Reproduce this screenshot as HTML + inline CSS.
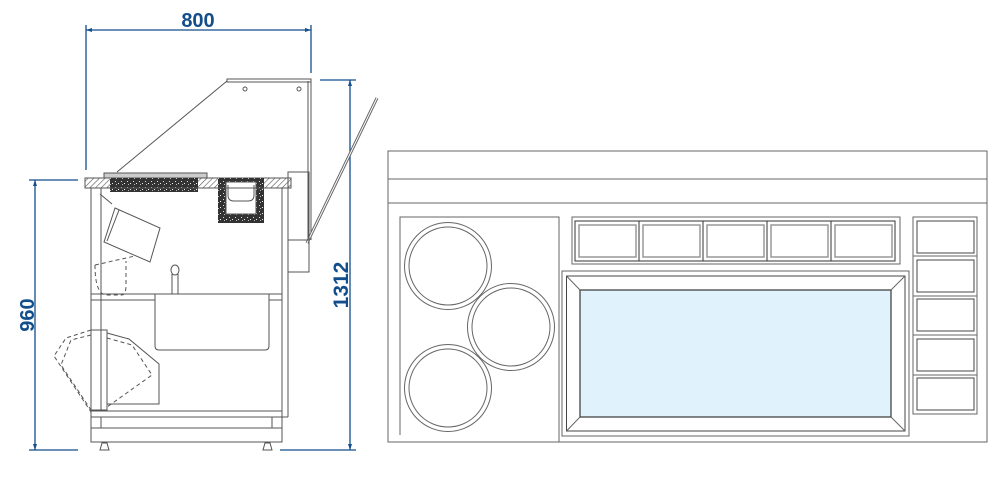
<!DOCTYPE html>
<html><head><meta charset="utf-8"><style>
html,body{margin:0;padding:0;background:#fff;}
svg{display:block;}
text{font-family:"Liberation Sans",sans-serif;font-weight:bold;fill:#124d8c;}
</style></head><body>
<svg width="1000" height="493" viewBox="0 0 1000 493" xmlns="http://www.w3.org/2000/svg">
<defs>
<pattern id="hatch" width="4" height="4" patternUnits="userSpaceOnUse" patternTransform="rotate(45)">
<rect width="4" height="4" fill="#fff"/><line x1="0" y1="0" x2="0" y2="4" stroke="#555" stroke-width="1.2"/></pattern>
<pattern id="gran" width="6" height="6" patternUnits="userSpaceOnUse">
<rect width="6" height="6" fill="#333"/><rect x="1" y="1" width="1" height="1" fill="#ddd"/><rect x="4" y="3" width="1" height="1" fill="#eee"/><rect x="2" y="4" width="1" height="1" fill="#bbb"/></pattern>
</defs>
<g stroke="#124d8c" stroke-width="1.3" fill="none">
<line x1="86" y1="30" x2="311" y2="30"/><line x1="86" y1="25" x2="86" y2="170"/><line x1="311" y1="25" x2="311" y2="73"/>
<line x1="35" y1="180" x2="35" y2="450"/><line x1="29" y1="180" x2="78" y2="180"/><line x1="29" y1="450" x2="78" y2="450"/>
<line x1="350" y1="80" x2="350" y2="450"/><line x1="320" y1="80" x2="356" y2="80"/><line x1="280" y1="450" x2="356" y2="450"/>
</g>
<g fill="#124d8c"><path d="M86 30l6-2v4z"/><path d="M311 30l-6-2v4z"/><path d="M35 180l-2 6h4z"/><path d="M35 450l-2-6h4z"/><path d="M350 80l-2 6h4z"/><path d="M350 450l-2-6h4z"/></g>
<text x="198" y="27" font-size="20" text-anchor="middle">800</text>
<text x="0" y="0" font-size="20" text-anchor="middle" transform="translate(34,315) rotate(-90)">960</text>
<text x="0" y="0" font-size="21" text-anchor="middle" transform="translate(348,285) rotate(-90)">1312</text>

<g stroke="#555" stroke-width="1" fill="none">
<line x1="117" y1="172" x2="227" y2="81"/>
<rect x="227" y="79" width="84" height="3"/>
<line x1="311" y1="81" x2="311" y2="240"/><line x1="308" y1="81" x2="308" y2="240"/>
<line x1="377" y1="98" x2="307" y2="243" stroke-width="3" stroke="#666"/>
<line x1="377" y1="98" x2="307" y2="243" stroke-width="1" stroke="#fff"/>
<circle cx="245" cy="89" r="2"/><circle cx="299" cy="89" r="2"/>
<rect x="104" y="173" width="103" height="6" fill="#ccc"/>
<rect x="85" y="178" width="206" height="10" fill="url(#hatch)"/>
<rect x="110" y="178" width="88" height="14" fill="url(#gran)" stroke="none"/>
<path d="M218 178h46v45h-46z" fill="url(#gran)" stroke="none"/>
<rect x="226" y="182" width="30" height="32" fill="#fff"/>
<path d="M228 185v10q0 6 6 6h14q6 0 6-6v-10" />
<rect x="288" y="172" width="21" height="68"/><rect x="288" y="240" width="21" height="32"/>
<rect x="91" y="188" width="191" height="229"/>
<line x1="288" y1="188" x2="288" y2="417"/><line x1="282" y1="417" x2="288" y2="417"/>
<line x1="101" y1="188" x2="101" y2="411"/>
<line x1="91" y1="294" x2="282" y2="294"/><line x1="91" y1="300" x2="155" y2="300"/><line x1="269" y1="300" x2="282" y2="300"/>
<path d="M155 294v52q0 4 4 4h106q4 0 4-4v-52"/>
<path d="M100 194l12 10" />
<path d="M115 208l45 20-10 34-46-20z"/><line x1="119" y1="210" x2="107" y2="241"/>
<path d="M172 294v-20" /><path d="M178 294v-20"/><ellipse cx="175" cy="270" rx="4" ry="5"/>
<path d="M95 265q0 30 12 30h15q4 0 4-10v-24" stroke-dasharray="4,3"/>
<path d="M95 265l40-9" stroke-dasharray="4,3"/>
<rect x="91" y="330" width="16" height="80"/>
<path d="M107 333l22 6 30 25v40h-52"/>
<path d="M107 338l25 7 20 30-45 32" stroke-dasharray="4,3"/>
<path d="M91 330l-25 8-12 18 37 56" stroke-dasharray="4,3"/>
<path d="M91 335l-20 5-10 25 30 45" stroke-dasharray="4,3"/>
<rect x="91" y="411" width="191" height="6"/>
<rect x="91" y="417" width="191" height="11"/><rect x="91" y="428" width="191" height="14"/>
<line x1="101" y1="417" x2="101" y2="428"/><line x1="272" y1="417" x2="272" y2="428"/>
<path d="M100 450h9l-2-7h-5z"/><path d="M263 450h9l-2-7h-5z"/>
</g>

<g stroke="#666" stroke-width="1" fill="none">
<rect x="388" y="151" width="599" height="291"/>
<line x1="388" y1="179" x2="987" y2="179"/><line x1="388" y1="203" x2="987" y2="203"/>
<path d="M400 435V217h159v225"/>
<circle cx="448" cy="266" r="43.5"/><circle cx="448" cy="266" r="39"/>
<circle cx="511" cy="327" r="43.5"/><circle cx="511" cy="327" r="39"/>
<circle cx="448" cy="388" r="43.5"/><circle cx="448" cy="388" r="39"/>
<rect x="572" y="217" width="328" height="47"/>
<rect x="575" y="221" width="320" height="40" stroke="#333"/>
<line x1="639" y1="221" x2="639" y2="261" stroke="#333"/><line x1="703" y1="221" x2="703" y2="261" stroke="#333"/><line x1="767" y1="221" x2="767" y2="261" stroke="#333"/><line x1="831" y1="221" x2="831" y2="261" stroke="#333"/>
<rect x="579" y="225" width="57" height="32" stroke-width="1.5" stroke="#999"/>
<rect x="643" y="225" width="57" height="32" stroke-width="1.5" stroke="#999"/>
<rect x="707" y="225" width="57" height="32" stroke-width="1.5" stroke="#999"/>
<rect x="771" y="225" width="57" height="32" stroke-width="1.5" stroke="#999"/>
<rect x="835" y="225" width="57" height="32" stroke-width="1.5" stroke="#999"/>
<rect x="562" y="271" width="347" height="165"/>
<rect x="566.5" y="276" width="338.5" height="155" stroke="#444"/>
<rect x="580" y="290" width="311" height="127" fill="#e0f2fc" stroke="#444" stroke-width="1.3"/>
<line x1="566.5" y1="276" x2="580" y2="290"/><line x1="905" y1="276" x2="891" y2="290"/>
<line x1="566.5" y1="431" x2="580" y2="417"/><line x1="905" y1="431" x2="891" y2="417"/>
<rect x="913" y="217" width="64" height="197"/>
<line x1="913" y1="256" x2="977" y2="256"/><line x1="913" y1="296" x2="977" y2="296"/><line x1="913" y1="335" x2="977" y2="335"/><line x1="913" y1="375" x2="977" y2="375"/>
<rect x="917" y="221" width="57" height="32" stroke="#444"/>
<rect x="917" y="260" width="57" height="32" stroke="#444"/>
<rect x="917" y="299" width="57" height="32" stroke="#444"/>
<rect x="917" y="339" width="57" height="32" stroke="#444"/>
<rect x="917" y="378" width="57" height="32" stroke="#444"/>
</g>
</svg>
</body></html>
